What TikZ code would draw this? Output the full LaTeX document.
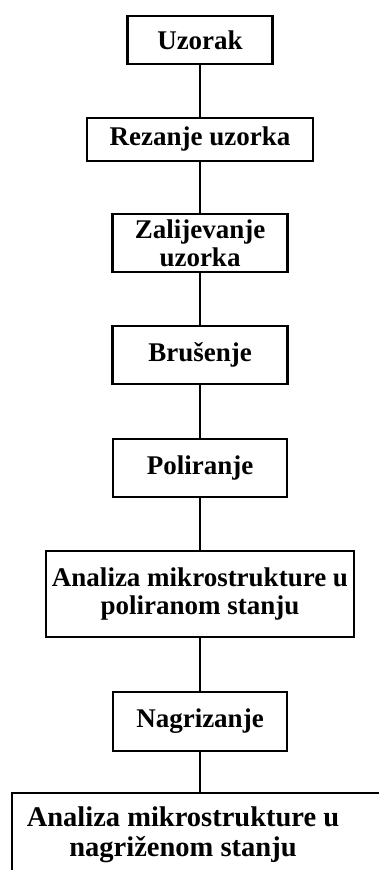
\documentclass[tikz,border=0pt]{standalone}
\usepackage{fontspec}
\setmainfont{Liberation Serif}
\usetikzlibrary{positioning}
\definecolor{ink}{HTML}{000000}
\definecolor{paper}{HTML}{FFFFFF}

\tikzset{
  stagebox/.style={draw=ink,fill=paper,line width=2.8pt,inner sep=0pt,outer sep=0pt,align=center,
    font=\fontsize{27}{28}\selectfont\bfseries},
  link/.style={draw=ink,line width=2.4pt}
}

\begin{document}
\begin{tikzpicture}[x=1pt,y=-1pt]
\fill[paper] (0,0) rectangle (379,870);
\useasboundingbox (0,0) rectangle (379,870);
\clip (0,0) rectangle (379,870);
\node[stagebox,minimum width=145pt,minimum height=48pt] (uz) at (200,40) {Uzorak};
\node[stagebox,minimum width=226pt,minimum height=43pt,below=54pt of uz] (rez) {Rezanje uzorka};
\node[stagebox,minimum width=175pt,minimum height=58pt,below=53pt of rez] (zal) {Zalijevanje\\uzorka};
\node[stagebox,minimum width=175pt,minimum height=58pt,below=54pt of zal] (bru) {Brušenje};
\node[stagebox,minimum width=174pt,minimum height=58pt,below=55pt of bru] (pol) {Poliranje};
\node[stagebox,minimum width=308pt,minimum height=86pt,below=54pt of pol] (an1) {Analiza mikrostrukture u\\poliranom stanju};
\node[stagebox,minimum width=174pt,minimum height=59pt,below=55pt of an1] (nag) {Nagrizanje};
\node[stagebox,minimum width=376pt,minimum height=86pt,below=42pt of nag] (an2) {};
\node[font=\fontsize{28.5}{30}\selectfont\bfseries,align=center,inner sep=0pt] (an2txt)
  at ([xshift=-17pt,yshift=1pt]an2.center) {Analiza mikrostrukture u\\nagriženom stanju};
% veze izmedju koraka
\draw[link] (uz) -- (rez);
\draw[link] (rez) -- (zal);
\draw[link] (zal) -- (bru);
\draw[link] (bru) -- (pol);
\draw[link] (pol) -- (an1);
\draw[link] (an1) -- (nag);
\draw[link] (nag) -- (an2);
\end{tikzpicture}
\end{document}
